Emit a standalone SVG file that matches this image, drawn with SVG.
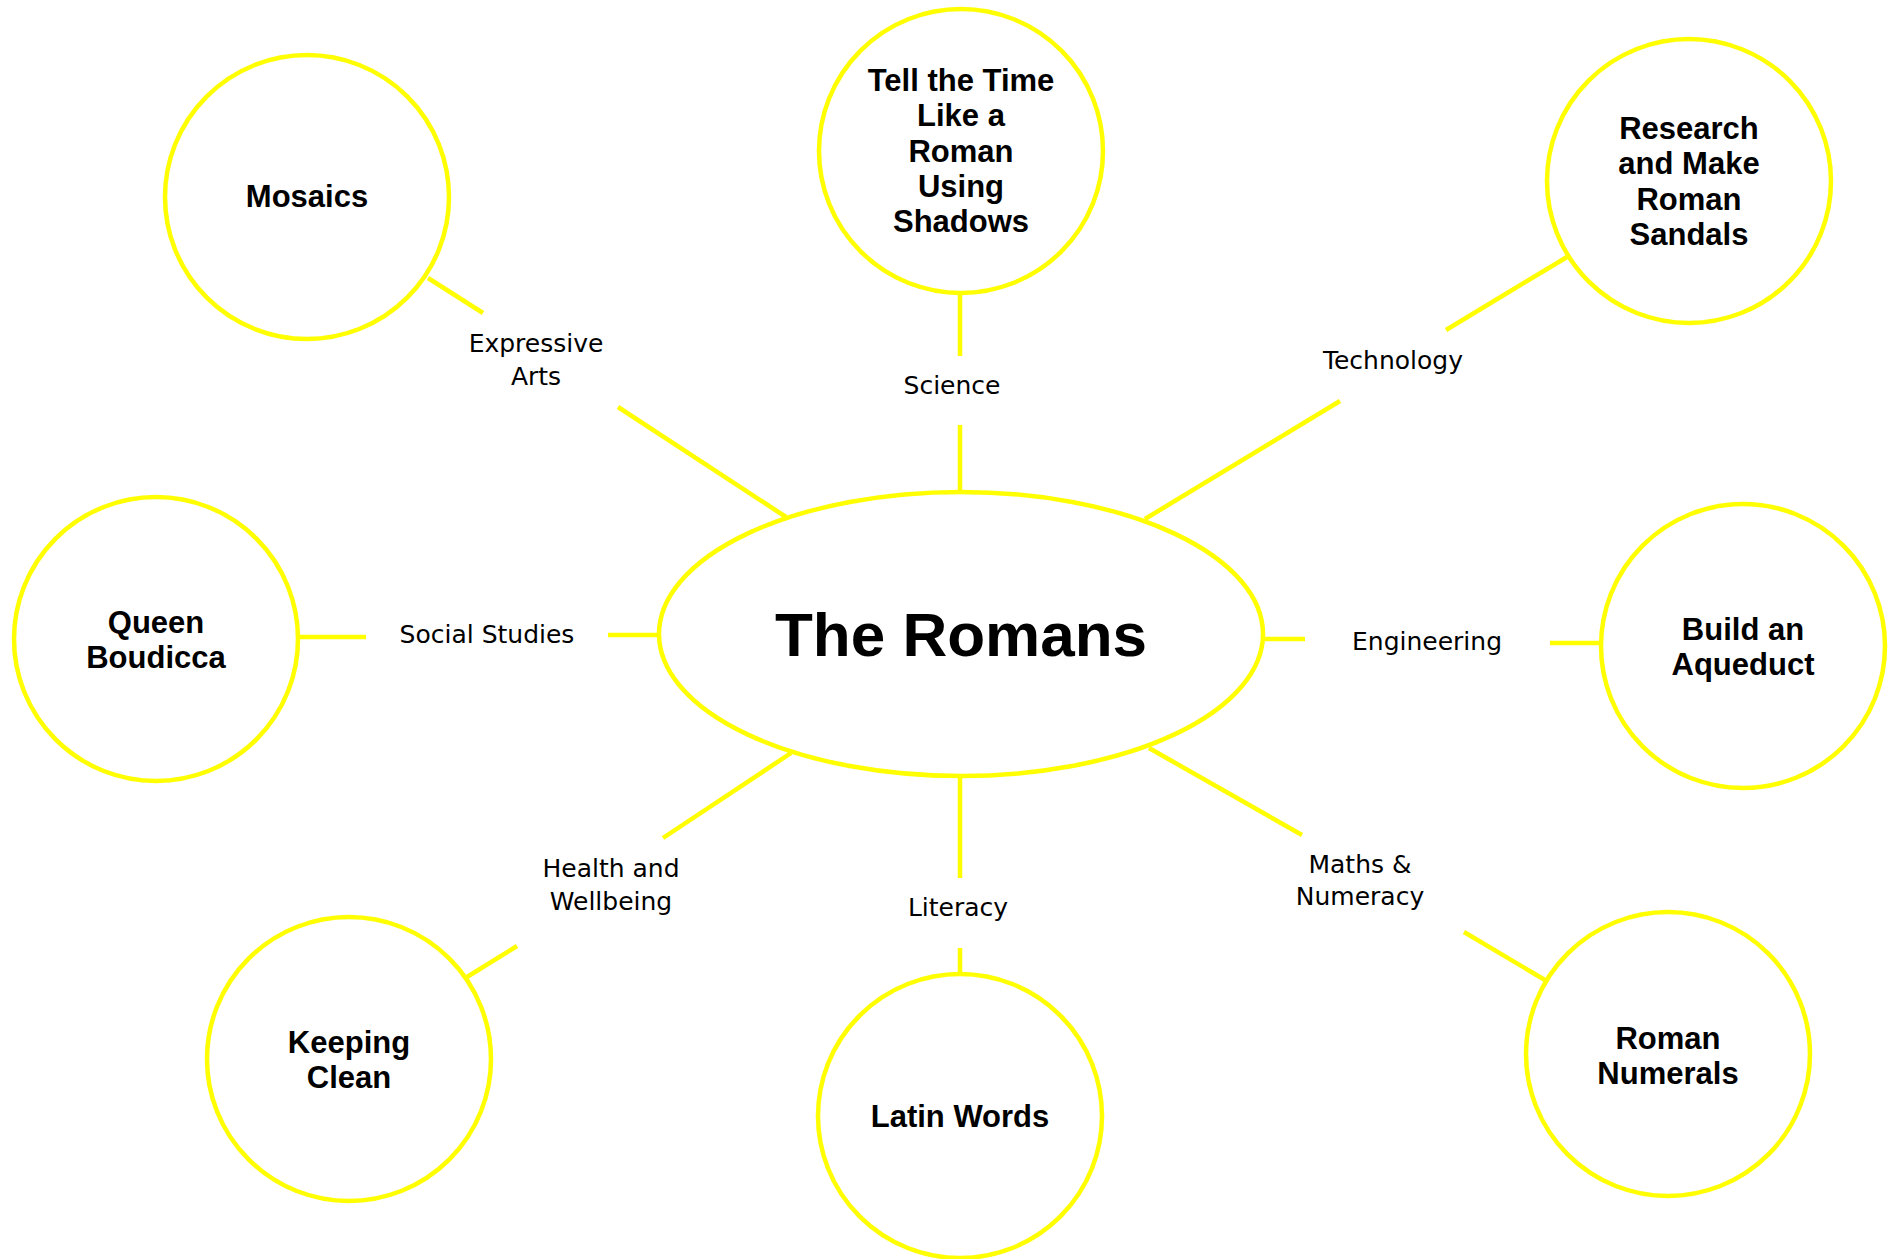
<svg xmlns="http://www.w3.org/2000/svg" width="1894" height="1259" viewBox="0 0 1894 1259">
<style>
.node{fill:#fff;stroke:#ffff00;stroke-width:4.5}
.edge{stroke:#ffff00;stroke-width:4.5;fill:none}
.nt{font-family:"Liberation Sans",Arial,sans-serif;font-weight:bold;font-size:31px;fill:#000;text-anchor:middle}
.lt{font-family:"DejaVu Sans","Liberation Sans",sans-serif;font-size:25px;fill:#000;text-anchor:middle}
.title{font-family:"Liberation Sans",Arial,sans-serif;font-weight:bold;font-size:62px;fill:#000;text-anchor:middle}
</style>
<rect x="0" y="0" width="1894" height="1259" fill="#fff"/>
<g id="connectors">
<line class="edge" x1="428" y1="278" x2="483" y2="313"/>
<line class="edge" x1="618" y1="407" x2="786" y2="517"/>
<text class="lt" x="536" y="352">Expressive</text>
<text class="lt" x="536" y="385">Arts</text>
<line class="edge" x1="960" y1="293" x2="960" y2="356"/>
<line class="edge" x1="960" y1="425" x2="960" y2="492"/>
<text class="lt" x="952" y="394">Science</text>
<line class="edge" x1="1567" y1="257" x2="1446" y2="330"/>
<line class="edge" x1="1340" y1="401" x2="1145" y2="519"/>
<text class="lt" x="1393" y="369">Technology</text>
<line class="edge" x1="300" y1="637" x2="366" y2="637"/>
<line class="edge" x1="608" y1="635" x2="658" y2="635"/>
<text class="lt" x="487" y="643">Social Studies</text>
<line class="edge" x1="1262" y1="639" x2="1305" y2="639"/>
<line class="edge" x1="1550" y1="643" x2="1600" y2="643"/>
<text class="lt" x="1427" y="650">Engineering</text>
<line class="edge" x1="791" y1="753" x2="663" y2="838"/>
<line class="edge" x1="517" y1="946" x2="467" y2="977"/>
<text class="lt" x="611" y="877">Health and</text>
<text class="lt" x="611" y="910">Wellbeing</text>
<line class="edge" x1="960" y1="777" x2="960" y2="878"/>
<line class="edge" x1="960" y1="948" x2="960" y2="974"/>
<text class="lt" x="958" y="916">Literacy</text>
<line class="edge" x1="1149" y1="748" x2="1302" y2="835"/>
<line class="edge" x1="1464" y1="932" x2="1545" y2="980"/>
<text class="lt" x="1360" y="873">Maths &amp;</text>
<text class="lt" x="1360" y="905">Numeracy</text>
</g>
<g id="node-romans">
<ellipse class="node" cx="961" cy="634" rx="302" ry="142"/>
<text class="title" x="961" y="656">The Romans</text>
</g>
<g id="node-mosaics">
<circle class="node" cx="307" cy="197" r="142"/>
<text class="nt" x="307" y="207">Mosaics</text>
</g>
<g id="node-time">
<circle class="node" cx="961" cy="151" r="142"/>
<text class="nt" x="961" y="91">Tell the Time</text>
<text class="nt" x="961" y="126">Like a</text>
<text class="nt" x="961" y="162">Roman</text>
<text class="nt" x="961" y="197">Using</text>
<text class="nt" x="961" y="232">Shadows</text>
</g>
<g id="node-sandals">
<circle class="node" cx="1689" cy="181" r="142"/>
<text class="nt" x="1689" y="139">Research</text>
<text class="nt" x="1689" y="174">and Make</text>
<text class="nt" x="1689" y="210">Roman</text>
<text class="nt" x="1689" y="245">Sandals</text>
</g>
<g id="node-boudicca">
<circle class="node" cx="156" cy="639" r="142"/>
<text class="nt" x="156" y="633">Queen</text>
<text class="nt" x="156" y="668">Boudicca</text>
</g>
<g id="node-aqueduct">
<circle class="node" cx="1743" cy="646" r="142"/>
<text class="nt" x="1743" y="640">Build an</text>
<text class="nt" x="1743" y="675">Aqueduct</text>
</g>
<g id="node-clean">
<circle class="node" cx="349" cy="1059" r="142"/>
<text class="nt" x="349" y="1053">Keeping</text>
<text class="nt" x="349" y="1088">Clean</text>
</g>
<g id="node-latin">
<circle class="node" cx="960" cy="1116" r="142"/>
<text class="nt" x="960" y="1127">Latin Words</text>
</g>
<g id="node-numerals">
<circle class="node" cx="1668" cy="1054" r="142"/>
<text class="nt" x="1668" y="1049">Roman</text>
<text class="nt" x="1668" y="1084">Numerals</text>
</g>
</svg>
